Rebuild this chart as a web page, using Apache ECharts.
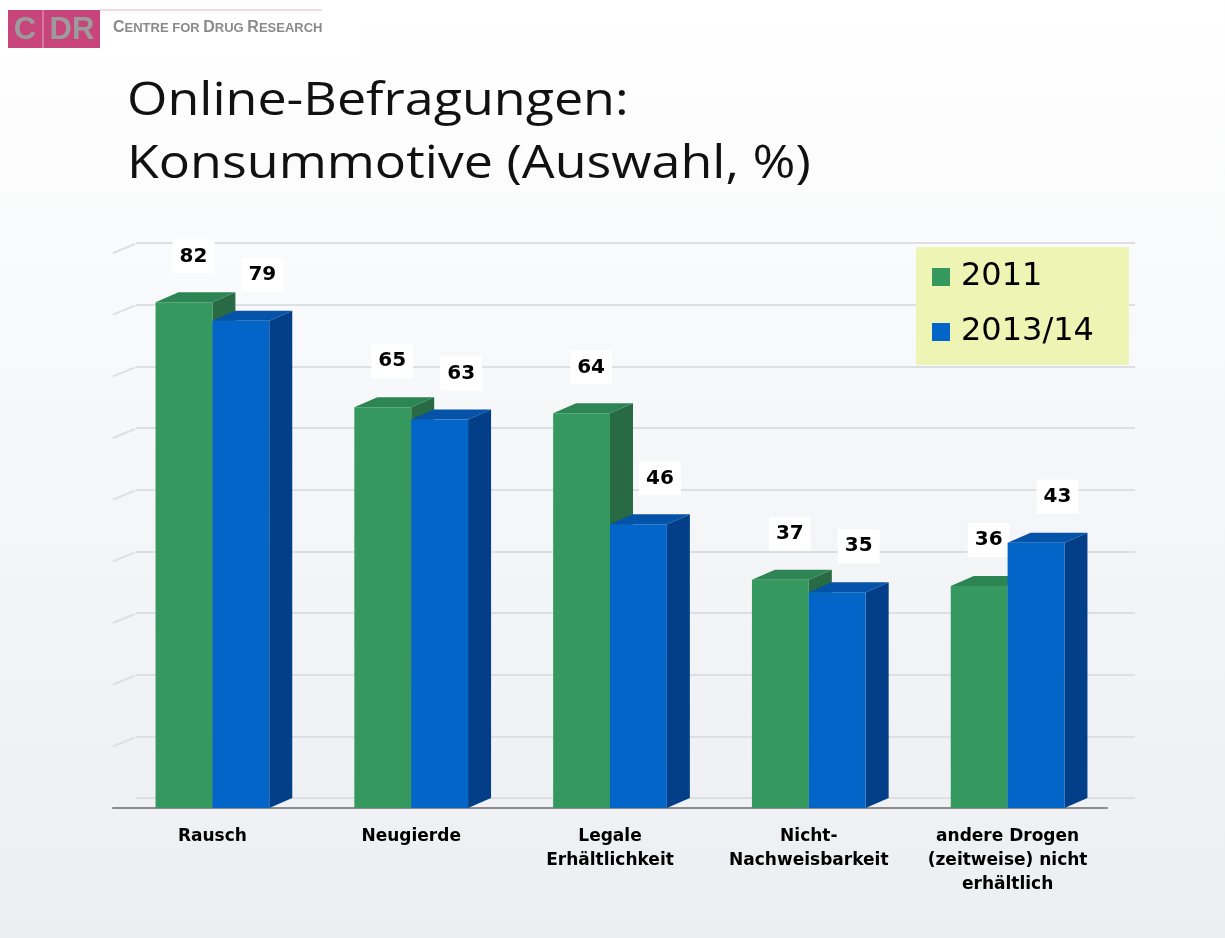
<!DOCTYPE html>
<html>
<head>
<meta charset="utf-8">
<script src="https://cdn.jsdelivr.net/npm/echarts@6/dist/echarts.min.js"></script>
<style>
  html, body { margin: 0; padding: 0; }
  #chart { width: 1225px; height: 938px; }
</style>
</head>
<body>
<div id="chart"></div>
<script>
var categories = ['Rausch', 'Neugierde', 'Legale\nErhältlichkeit', 'Nicht-\nNachweisbarkeit', 'andere Drogen\n(zeitweise) nicht\nerhältlich'];
var seriesNames = ['2011', '2013/14'];
var values2011 = [82, 65, 64, 37, 36];
var values2013 = [79, 63, 46, 35, 43];
var wallTicks = [10, 20, 30, 40, 50, 60, 70, 80, 90];

var chart = echarts.init(document.getElementById('chart'));

// depth of the fake 3d
var dx = 23, dy = 10;

function bar3d(slot, front, top, side, labelShift) {
    return function (params, api) {
        var i = api.value(0), v = api.value(1);
        var base = api.coord([i, 0]);
        var peak = api.coord([i, v]);
        var bw = api.size([1, 0])[0];
        var w = bw * 0.286;
        var x0 = base[0] - w + slot * w;
        var x1 = x0 + w;
        var y0 = base[1], y1 = peak[1];
        return {
            type: 'group',
            children: [
                { type: 'polygon', shape: { points: [[x1, y0], [x1 + dx, y0 - dy], [x1 + dx, y1 - dy], [x1, y1]] }, style: { fill: side } },
                { type: 'polygon', shape: { points: [[x0, y1], [x0 + dx, y1 - dy], [x1 + dx, y1 - dy], [x1, y1]] }, style: { fill: top } },
                { type: 'rect', shape: { x: x0, y: y1, width: w, height: y0 - y1 }, style: { fill: front } },
                {
                    type: 'text', x: (x0 + x1 + dx) / 2 + labelShift, y: y1 - dy - 36, z2: 10,
                    style: {
                        text: String(v), fill: '#000', fontSize: 20, fontWeight: 'bold', fontFamily: 'DejaVu Sans',
                        backgroundColor: '#fff', padding: [8, 7, 6, 7], align: 'center', verticalAlign: 'middle'
                    }
                }
            ]
        };
    };
}

// short slanted lines of the left wall
function wallEdge(params, api) {
    var p = api.coord([0, api.value(1)]);
    var left = p[0] - api.size([1, 0])[0] / 2;
    return {
        type: 'line',
        shape: { x1: left, y1: p[1], x2: left + dx - 1, y2: p[1] - dy + 1 },
        style: { stroke: '#dcdfe4', lineWidth: 2 }
    };
}

var option = {
    backgroundColor: new echarts.graphic.LinearGradient(0, 0, 0, 1, [
        { offset: 0, color: '#ffffff' },
        { offset: 1, color: '#eceef2' }
    ]),
    animation: false,
    graphic: [
        { type: 'rect', left: 0, top: 0, shape: { width: 360, height: 56 }, style: { fill: '#ffffff' } },
        { type: 'line', shape: { x1: 100, y1: 10, x2: 322, y2: 10 }, style: { stroke: '#e2b6c8', lineWidth: 1 } },
        { type: 'rect', shape: { x: 8, y: 10, width: 92, height: 38 }, style: { fill: '#c8457c' } },
        { type: 'line', shape: { x1: 43, y1: 10, x2: 43, y2: 48 }, style: { stroke: '#e9a9c2', lineWidth: 1 } },
        { type: 'text', x: 25, y: 30, style: { text: 'C', fill: '#9c9c9c', fontSize: 31, fontWeight: 'bold', fontFamily: 'Liberation Sans', align: 'center', verticalAlign: 'middle' } },
        { type: 'text', x: 72, y: 30, style: { text: 'DR', fill: '#9c9c9c', fontSize: 31, fontWeight: 'bold', fontFamily: 'Liberation Sans', align: 'center', verticalAlign: 'middle' } },
        {
            type: 'text', x: 113, y: 28,
            style: {
                text: '{b|C}{s|ENTRE FOR }{b|D}{s|RUG }{b|R}{s|ESEARCH}',
                verticalAlign: 'middle',
                rich: {
                    b: { fontSize: 16, fontWeight: 'bold', fill: '#8a8a8a', fontFamily: 'Liberation Sans' },
                    s: { fontSize: 13, fontWeight: 'bold', fill: '#8a8a8a', fontFamily: 'Liberation Sans' }
                }
            }
        },
        { type: 'text', x: 127, y: 102, scaleX: 1.13, style: { text: 'Online-Befragungen:', fill: '#111', fontSize: 46, fontFamily: 'Open Sans', verticalAlign: 'middle' } },
        { type: 'text', x: 127, y: 165, scaleX: 1.13, style: { text: 'Konsummotive (Auswahl, %)', fill: '#111', fontSize: 46, fontFamily: 'Open Sans', verticalAlign: 'middle' } }
    ],
    legend: {
        orient: 'vertical',
        left: 916,
        top: 247,
        padding: [14, 35, 17, 16],
        backgroundColor: '#eef5b4',
        itemWidth: 18,
        itemHeight: 18,
        itemGap: 23,
        textStyle: { fontSize: 32, fontFamily: 'DejaVu Sans', color: '#000', padding: [0, 0, 0, 6] },
        data: [{ name: seriesNames[0], icon: 'rect' }, { name: seriesNames[1], icon: 'rect' }]
    },
    grid: [
        { left: 113, right: 118, top: 253, bottom: 130 },
        { left: 136, right: 90, top: 243, bottom: 140 }
    ],
    xAxis: [
        {
            type: 'category', gridIndex: 0, data: categories,
            axisLine: { lineStyle: { color: '#8c8c8c', width: 2 } },
            axisTick: { length: 6, lineStyle: { color: '#555', width: 2 } },
            axisLabel: { interval: 0, margin: 17, fontSize: 17, fontWeight: 'bold', fontFamily: 'DejaVu Sans', color: '#000', lineHeight: 24 }
        },
        { type: 'category', gridIndex: 1, data: categories, show: false }
    ],
    yAxis: [
        { type: 'value', gridIndex: 0, min: 0, max: 90, interval: 10, show: false, splitLine: { show: false } },
        {
            type: 'value', gridIndex: 1, min: 0, max: 90, interval: 10,
            axisLine: { show: false }, axisTick: { show: false }, axisLabel: { show: false },
            splitLine: { lineStyle: { color: '#dcdfe4', width: 2 } }
        }
    ],
    series: [
        {
            type: 'custom', name: 'wall', silent: true, xAxisIndex: 0, yAxisIndex: 0, z: 1,
            renderItem: wallEdge, encode: { x: 0, y: 1 },
            data: wallTicks.map(function (t) { return [0, t]; })
        },
        {
            type: 'custom', name: seriesNames[0], xAxisIndex: 0, yAxisIndex: 0, z: 3,
            itemStyle: { color: '#35995f' },
            renderItem: bar3d(0, '#35995f', '#2d8553', '#276a43', -2),
            encode: { x: 0, y: 1 },
            data: values2011.map(function (v, i) { return [i, v]; })
        },
        {
            type: 'custom', name: seriesNames[1], xAxisIndex: 0, yAxisIndex: 0, z: 4,
            itemStyle: { color: '#0465c9' },
            renderItem: bar3d(1, '#0465c9', '#0553a8', '#033f88', 10),
            encode: { x: 0, y: 1 },
            data: values2013.map(function (v, i) { return [i, v]; })
        }
    ]
};

chart.setOption(option);
</script>
</body>
</html>
